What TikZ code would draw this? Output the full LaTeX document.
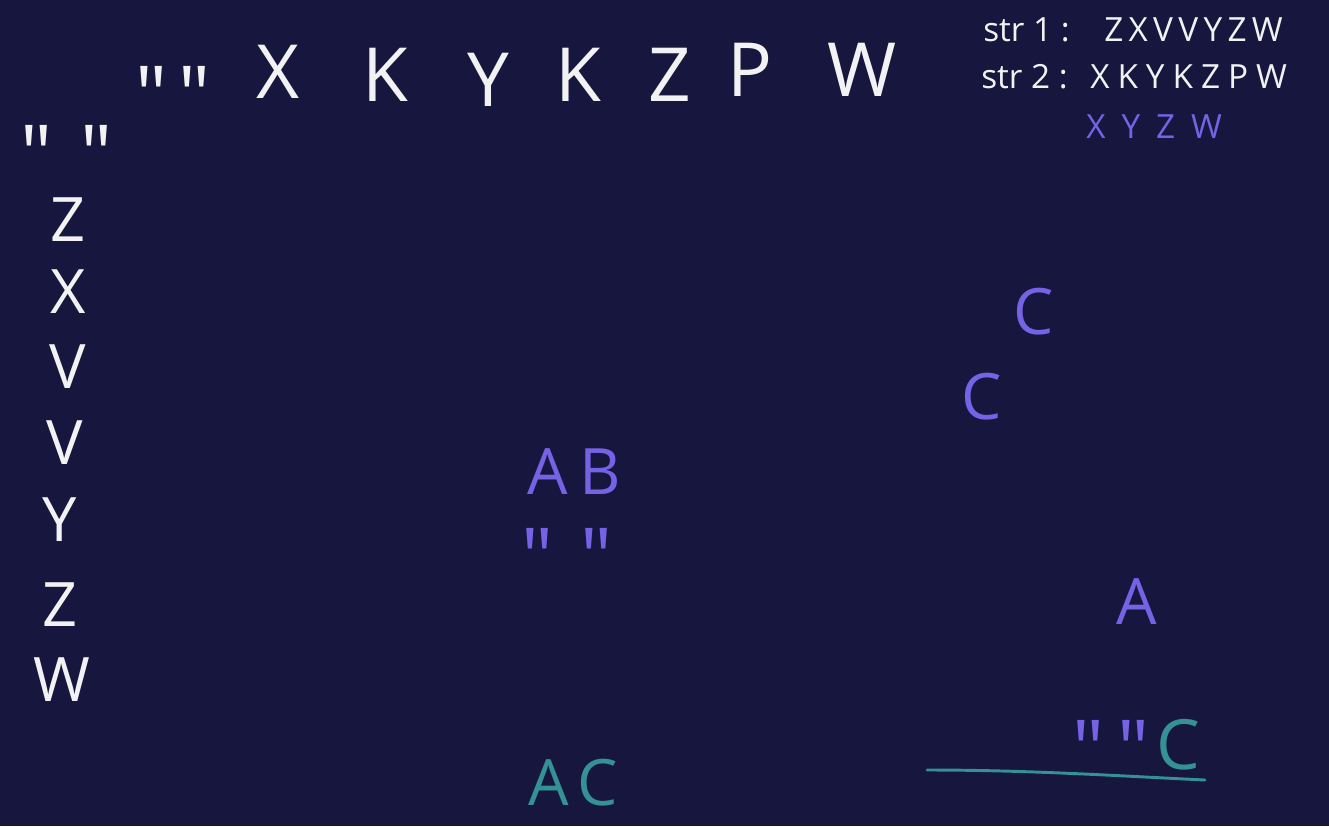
\documentclass[tikz,border=0pt]{standalone}
\usepackage{fontspec}
\setmainfont{Open Sans}
\newfontfamily\qfont{Open Sans}[Ligatures=TeXOff]
\definecolor{bg}{RGB}{22,22,62}
\definecolor{chalk}{RGB}{242,242,245}
\definecolor{lav}{RGB}{118,98,228}
\definecolor{teal}{RGB}{52,146,150}
\tikzset{
  big/.style={text=chalk, inner sep=0pt, font=\fontsize{56}{60}\selectfont},
  col/.style={text=chalk, inner sep=0pt, font=\fontsize{46}{50}\selectfont},
  note/.style={text=chalk, inner sep=0pt, anchor=west, font=\fontsize{25}{28}\selectfont},
  pur/.style={text=lav, inner sep=0pt, font=\fontsize{48}{52}\selectfont},
  tea/.style={text=teal, inner sep=0pt, font=\fontsize{48}{52}\selectfont},
  qw/.style={text=chalk, inner sep=0pt, anchor=north, font=\qfont\fontsize{60}{60}\selectfont},
  qp/.style={text=lav, inner sep=0pt, anchor=north, font=\qfont\fontsize{60}{60}\selectfont},
}
\begin{document}
\begin{tikzpicture}[x=0.75pt,y=-0.75pt]
\fill[bg] (0,0) rectangle (1329,826);
\useasboundingbox (0,0) rectangle (1329,826);
% top row
\node[qw] (tq1) at (152,66) {"};
\node[qw] (tq2) at (195,66) {"};
\node[big] (t1) at (278,72) {X};
\node[big] (t2) at (385,75) {K};
\node[big] (t3) at (488,80) {Y};
\node[big] (t4) at (578,75) {K};
\node[big] (t5) at (670,75) {Z};
\node[big] (t6) at (750,70) {P};
\node[big] (t7) at (862,70) {W};
% left column
\node[qw] (lq1) at (37,125) {"};
\node[qw] (lq2) at (97,125) {"};
\node[col] (l1) at (68,220) {Z};
\node[col] (l2) at (68,292) {X};
\node[col] (l3) at (68,367) {V};
\node[col] (l4) at (65,443) {V};
\node[col] (l5) at (60,520) {Y};
\node[col] (l6) at (60,605) {Z};
\node[col] (l7) at (62,680) {W};
% notes
\node[note] (s1) at (983,30) {str 1 :};
\node[note, font=\fontsize{25}{28}\selectfont\addfontfeature{LetterSpace=16}] (s1b) at (1104,30) {ZXVVYZW};
\node[note] (s2) at (981,77) {str 2 :};
\node[note, font=\fontsize{25}{28}\selectfont\addfontfeature{LetterSpace=24}] (s2b) at (1090,77) {XKYKZPW};
\node[note, text=lav, font=\fontsize{25}{28}\selectfont\addfontfeature{LetterSpace=48}] (s3) at (1086,127) {XYZW};
% purple letters
\node[pur] (c1) at (1034,312) {C};
\node[pur] (c2) at (982,397) {C};
\node[pur] (ab) at (574,472) {A\hspace{9pt}B};
\node[qp] (pq1) at (538,528) {"};
\node[qp] (pq2) at (597,528) {"};
\node[pur] (a2) at (1137,602) {A};
\node[qp] (pq3) at (1089,720) {"};
\node[qp] (pq4) at (1134,720) {"};
\node[tea, font=\fontsize{52}{56}\selectfont] (c3) at (1178,745) {C};
\node[tea] (ac) at (573,783) {A\hspace{6pt}C};
\coordinate (la) at (927,770);
\coordinate (lb) at (1205,780);
\draw[teal, line width=2.2pt, line cap=round] (la) .. controls (1030,770) and (1120,776) .. (lb);
\end{tikzpicture}
\end{document}
